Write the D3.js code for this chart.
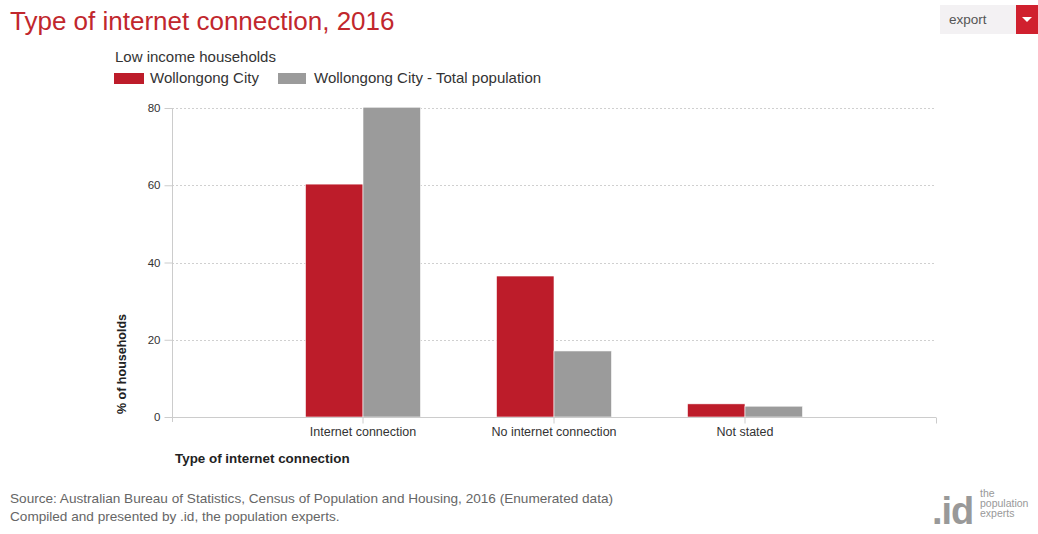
<!DOCTYPE html>
<html>
<head>
<meta charset="utf-8">
<script src="https://cdn.jsdelivr.net/npm/d3@7"></script>
<style>
  html, body { margin: 0; padding: 0; background: #fff; }
  svg { display: block; font-family: "Liberation Sans", Arial, sans-serif; }
</style>
</head>
<body>
<svg id="chart" width="1038" height="534"></svg>
<script>
// Chart data
const categories = ["Internet connection", "No internet connection", "Not stated"];
const seriesNames = ["Wollongong City", "Wollongong City - Total population"];
const lowIncome = [60.3, 36.5, 3.4];
const totalPopulation = [80.2, 17.1, 2.8];
const yTicks = [0, 20, 40, 60, 80];

const colors = ["#bd1c2a", "#9b9b9b"];
const seriesValues = [lowIncome, totalPopulation];

const svg = d3.select("#chart");

// Plot area
const plot = { left: 172, right: 936, top: 108, bottom: 417 };

const x = d3.scaleBand()
  .domain(categories)
  .range([plot.left, plot.right])
  .paddingInner(0)
  .paddingOuter(0.5);

const xInner = d3.scaleBand()
  .domain(d3.range(seriesNames.length))
  .range([0, x.bandwidth()])
  .paddingInner(0)
  .paddingOuter(0.66);

const y = d3.scaleLinear()
  .domain([0, 80])
  .range([plot.bottom, plot.top]);

// Title
svg.append("text")
  .attr("x", 10).attr("y", 30)
  .attr("fill", "#c1272d")
  .attr("font-size", 26)
  .text("Type of internet connection, 2016");

// Export button
svg.append("rect").attr("x", 940).attr("y", 5).attr("width", 76).attr("height", 29).attr("fill", "#f3f1f3");
svg.append("text").attr("x", 949).attr("y", 24).attr("font-size", 13.5).attr("fill", "#555").text("export");
svg.append("rect").attr("x", 1016).attr("y", 5).attr("width", 22).attr("height", 29).attr("fill", "#d0202e");
svg.append("path").attr("d", "M1022,17 L1032,17 L1027,22 Z").attr("fill", "#fff");

// Legend
svg.append("text").attr("x", 115).attr("y", 62).attr("font-size", 15).attr("fill", "#333").text("Low income households");
const legendX = [114, 278];
seriesNames.forEach((name, i) => {
  svg.append("rect").attr("x", legendX[i]).attr("y", 73).attr("width", i === 0 ? 30 : 28).attr("height", 11).attr("fill", colors[i]);
  svg.append("text").attr("x", legendX[i] + 36).attr("y", 83).attr("font-size", 15).attr("fill", "#333").text(name);
});

// Gridlines
svg.append("g")
  .selectAll("line")
  .data(yTicks.filter(d => d > 0))
  .join("line")
  .attr("x1", plot.left).attr("x2", plot.right)
  .attr("y1", d => Math.round(y(d)) + 0.5).attr("y2", d => Math.round(y(d)) + 0.5)
  .attr("stroke", "#d0d0d0")
  .attr("stroke-dasharray", "2,2");

// Y axis
const yAxis = svg.append("g")
  .attr("transform", `translate(${plot.left + 0.5},0)`)
  .call(d3.axisLeft(y).tickValues(yTicks).tickSize(8).tickPadding(4));
yAxis.select(".domain").attr("stroke", "#ccc").attr("d", `M0,${plot.top}V${plot.bottom + 5}`);
yAxis.selectAll(".tick line").attr("stroke", "#ccc");
yAxis.selectAll(".tick text").attr("fill", "#333").attr("font-size", 11.5).attr("font-family", "Liberation Sans, Arial, sans-serif");

// Bars
const groups = svg.append("g")
  .selectAll("g")
  .data(categories)
  .join("g")
  .attr("transform", d => `translate(${x(d)},0)`);

groups.selectAll("rect")
  .data((d, ci) => seriesValues.map((vals, si) => ({ si, v: vals[ci] })))
  .join("rect")
  .attr("x", d => xInner(d.si))
  .attr("width", xInner.bandwidth())
  .attr("y", d => y(d.v))
  .attr("height", d => y(0) - y(d.v))
  .attr("fill", d => colors[d.si])
  .attr("stroke", "#fff")
  .attr("stroke-width", 0.6);

// X axis
const xAxis = svg.append("g")
  .attr("transform", `translate(0,${plot.bottom + 0.5})`)
  .call(d3.axisBottom(x).tickSize(6).tickPadding(4));
xAxis.select(".domain").attr("stroke", "#ccc").attr("d", `M${plot.left},0H${plot.right}`);
xAxis.selectAll(".tick line").attr("stroke", "#ccc");
xAxis.selectAll(".tick text").attr("fill", "#333").attr("font-size", 12.5).attr("font-family", "Liberation Sans, Arial, sans-serif");
xAxis.append("line").attr("x1", plot.right + 0.5).attr("x2", plot.right + 0.5).attr("y1", 0).attr("y2", 6).attr("stroke", "#ccc");

// Axis titles
svg.append("text")
  .attr("transform", "translate(126,414) rotate(-90)")
  .attr("font-size", 12.5).attr("font-weight", "bold").attr("fill", "#222")
  .text("% of households");
svg.append("text")
  .attr("x", 175).attr("y", 463)
  .attr("font-size", 13.4).attr("font-weight", "bold").attr("fill", "#222")
  .text("Type of internet connection");

// Footer
svg.append("text").attr("x", 10).attr("y", 503).attr("font-size", 13.6).attr("fill", "#666")
  .text("Source: Australian Bureau of Statistics, Census of Population and Housing, 2016 (Enumerated data)");
svg.append("text").attr("x", 10).attr("y", 521).attr("font-size", 13.6).attr("fill", "#666")
  .text("Compiled and presented by .id, the population experts.");

// Logo
svg.append("text").attr("x", 932).attr("y", 524).attr("font-size", 38).attr("font-weight", "bold")
  .attr("fill", "#999").attr("letter-spacing", -1).text(".id");
["the", "population", "experts"].forEach((t, i) => {
  svg.append("text").attr("x", 980).attr("y", 497 + i * 10).attr("font-size", 10.5)
    .attr("fill", "#999").text(t);
});
</script>
</body>
</html>
